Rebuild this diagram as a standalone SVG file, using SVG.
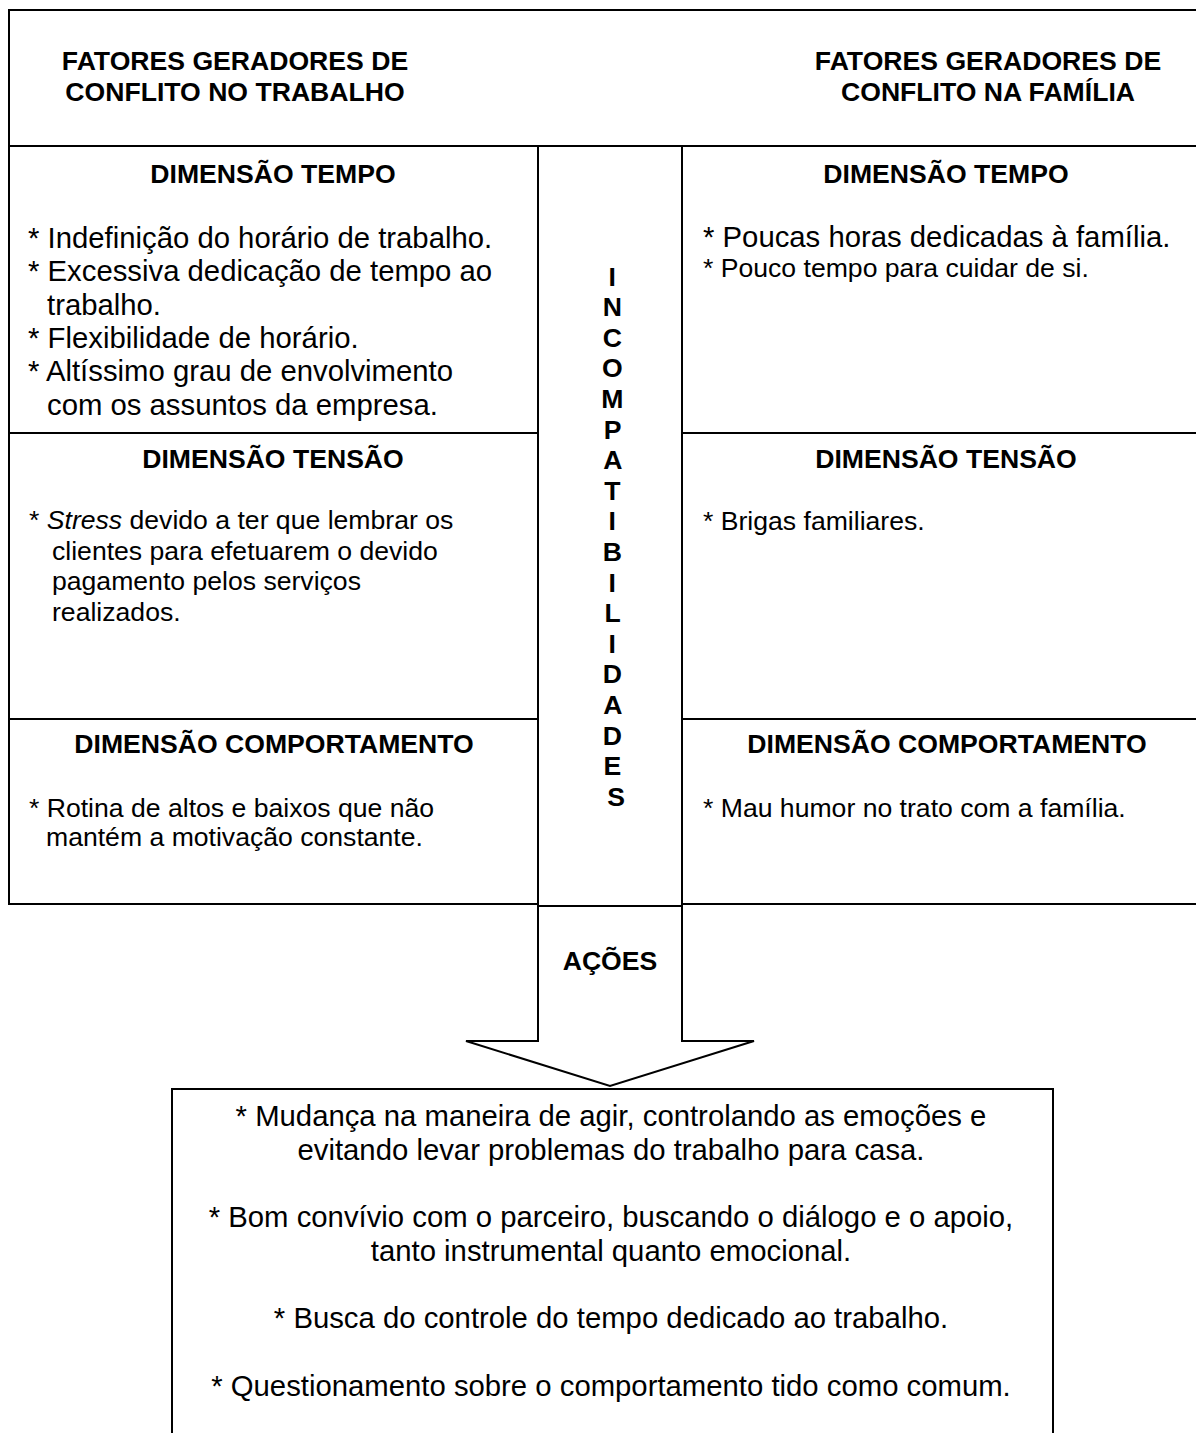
<svg xmlns="http://www.w3.org/2000/svg" width="1196" height="1433" viewBox="0 0 1196 1433">
<style>
  .box { fill: none; stroke: #000; stroke-width: 2; }
  .t { font-family: "Liberation Sans", Arial, sans-serif; fill: #000; }
  .h { font-size: 26.6px; font-weight: bold; }
  .b { font-size: 26.6px; }
  .bl { font-size: 29.3px; }
  .mid { text-anchor: middle; }
</style>
<rect x="0" y="0" width="1196" height="1433" fill="#fff"/>

<g id="header">
  <rect class="box" x="9" y="10" width="1300" height="136"/>
  <text class="t h mid" x="235" y="70">FATORES GERADORES DE</text>
  <text class="t h mid" x="235" y="101">CONFLITO NO TRABALHO</text>
  <text class="t h mid" x="988" y="70">FATORES GERADORES DE</text>
  <text class="t h mid" x="988" y="101">CONFLITO NA FAMÍLIA</text>
</g>

<g id="trabalho-tempo">
  <rect class="box" x="9" y="146" width="529" height="287"/>
  <text class="t h mid" x="273" y="183">DIMENSÃO TEMPO</text>
  <text class="t bl" x="28" y="248">* Indefinição do horário de trabalho.</text>
  <text class="t bl" x="28" y="281">* Excessiva dedicação de tempo ao</text>
  <text class="t bl" x="47" y="315">trabalho.</text>
  <text class="t bl" x="28" y="348">* Flexibilidade de horário.</text>
  <text class="t bl" x="28" y="381">* Altíssimo grau de envolvimento</text>
  <text class="t bl" x="47" y="415">com os assuntos da empresa.</text>
</g>

<g id="trabalho-tensao">
  <rect class="box" x="9" y="433" width="529" height="286"/>
  <text class="t h mid" x="273" y="468">DIMENSÃO TENSÃO</text>
  <text class="t b" x="29" y="529">* <tspan font-style="italic">Stress</tspan> devido a ter que lembrar os</text>
  <text class="t b" x="52" y="560">clientes para efetuarem o devido</text>
  <text class="t b" x="52" y="590">pagamento pelos serviços</text>
  <text class="t b" x="52" y="621">realizados.</text>
</g>

<g id="trabalho-comportamento">
  <rect class="box" x="9" y="719" width="529" height="185"/>
  <text class="t h mid" x="274" y="753">DIMENSÃO COMPORTAMENTO</text>
  <text class="t b" x="29" y="817">* Rotina de altos e baixos que não</text>
  <text class="t b" x="46" y="846">mantém a motivação constante.</text>
</g>

<g id="incompatibilidades">
  <rect class="box" x="538" y="146" width="144" height="760"/>
  <text class="t h mid" x="616" y="285.5">
    <tspan x="616">I</tspan>
    <tspan x="616" dy="30.6">N</tspan>
    <tspan x="616" dy="30.6">C</tspan>
    <tspan x="616" dy="30.6">O</tspan>
    <tspan x="616" dy="30.6">M</tspan>
    <tspan x="616" dy="30.6">P</tspan>
    <tspan x="616" dy="30.6">A</tspan>
    <tspan x="616" dy="30.6">T</tspan>
    <tspan x="616" dy="30.6">I</tspan>
    <tspan x="616" dy="30.6">B</tspan>
    <tspan x="616" dy="30.6">I</tspan>
    <tspan x="616" dy="30.6">L</tspan>
    <tspan x="616" dy="30.6">I</tspan>
    <tspan x="616" dy="30.6">D</tspan>
    <tspan x="616" dy="30.6">A</tspan>
    <tspan x="616" dy="30.6">D</tspan>
    <tspan x="616" dy="30.6">E</tspan>
    <tspan x="616" dy="30.6">S</tspan>
  </text>
</g>

<g id="familia-tempo">
  <rect class="box" x="682" y="146" width="620" height="287"/>
  <text class="t h mid" x="946" y="183">DIMENSÃO TEMPO</text>
  <text class="t bl" x="703" y="247">* Poucas horas dedicadas à família.</text>
  <text class="t b" x="703" y="277">* Pouco tempo para cuidar de si.</text>
</g>

<g id="familia-tensao">
  <rect class="box" x="682" y="433" width="620" height="286"/>
  <text class="t h mid" x="946" y="468">DIMENSÃO TENSÃO</text>
  <text class="t b" x="703" y="530">* Brigas familiares.</text>
</g>

<g id="familia-comportamento">
  <rect class="box" x="682" y="719" width="620" height="185"/>
  <text class="t h mid" x="947" y="753">DIMENSÃO COMPORTAMENTO</text>
  <text class="t b" x="703" y="817">* Mau humor no trato com a família.</text>
</g>

<g id="connectors">
  <g id="acoes-arrow">
    <polygon class="box" points="538,906 682,906 682,1041 754,1041 610,1086 466,1041 538,1041"/>
    <text class="t h mid" x="610" y="970">AÇÕES</text>
  </g>
</g>

<g id="acoes">
  <rect class="box" x="172" y="1089" width="881" height="400"/>
  <text class="t bl mid" x="611" y="1126">* Mudança na maneira de agir, controlando as emoções e</text>
  <text class="t bl mid" x="611" y="1160">evitando levar problemas do trabalho para casa.</text>
  <text class="t bl mid" x="611" y="1227">* Bom convívio com o parceiro, buscando o diálogo e o apoio,</text>
  <text class="t bl mid" x="611" y="1261">tanto instrumental quanto emocional.</text>
  <text class="t bl mid" x="611" y="1328">* Busca do controle do tempo dedicado ao trabalho.</text>
  <text class="t bl mid" x="611" y="1396">* Questionamento sobre o comportamento tido como comum.</text>
</g>
</svg>
